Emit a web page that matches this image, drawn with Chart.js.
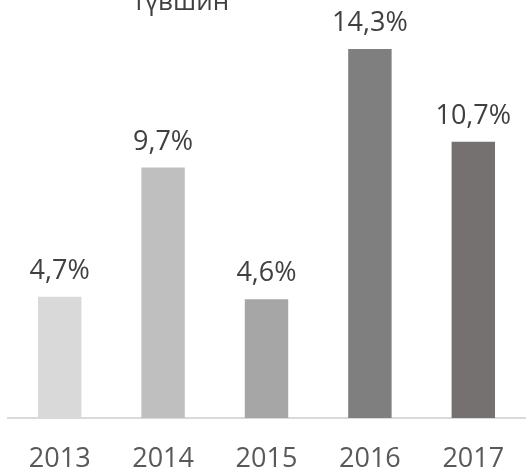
<!DOCTYPE html>
<html>
<head>
<meta charset="utf-8">
<script src="https://cdn.jsdelivr.net/npm/chart.js@4"></script>
<style>
    html, body { margin: 0; padding: 0; background: #fff; }
    #wrap { width: 529px; height: 473px; }
</style>
</head>
<body>
<div id="wrap"><canvas id="rateChart" width="529" height="473"></canvas></div>
<script>
const years = ['2013', '2014', '2015', '2016', '2017'];
const rates = [4.7, 9.7, 4.6, 14.3, 10.7];
const barColors = ['#d9d9d9', '#bfbfbf', '#a6a6a6', '#7f7f7f', '#767171'];
const titleText = 'түвшин';

const FONT = '"Open Sans", "DejaVu Sans", sans-serif';

// value labels above each bar
const valueLabels = {
    id: 'valueLabels',
    afterDatasetsDraw(chart) {
        const ctx = chart.ctx;
        const meta = chart.getDatasetMeta(0);
        ctx.save();
        ctx.font = '27px ' + FONT;
        ctx.fillStyle = '#404040';
        ctx.textAlign = 'center';
        ctx.textBaseline = 'alphabetic';
        meta.data.forEach((bar, i) => {
            const txt = rates[i].toFixed(1).replace('.', ',') + '%';
            ctx.fillText(txt, bar.x, bar.y - 18);
        });
        ctx.restore();
    }
};

// the title is cut off by the top edge, only its last line shows
const topTitle = {
    id: 'topTitle',
    afterDraw(chart) {
        const ctx = chart.ctx;
        ctx.save();
        ctx.font = '26px ' + FONT;
        ctx.fillStyle = '#404040';
        ctx.textAlign = 'center';
        ctx.textBaseline = 'alphabetic';
        ctx.fillText(titleText, 181, 10);
        ctx.restore();
    }
};

new Chart(document.getElementById('rateChart').getContext('2d'), {
    type: 'bar',
    data: {
        labels: years,
        datasets: [{
            data: rates,
            backgroundColor: barColors,
            categoryPercentage: 1,
            barPercentage: 0.42
        }]
    },
    options: {
        responsive: false,
        animation: false,
        events: [],
        layout: { padding: { left: 8, right: 4, top: 5, bottom: 0 } },
        plugins: {
            legend: { display: false },
            tooltip: { enabled: false }
        },
        scales: {
            x: {
                grid: { display: false },
                border: { display: true, color: '#d9d9d9', width: 2 },
                ticks: {
                    color: '#595959',
                    font: { family: FONT, size: 27 },
                    padding: 17
                },
                afterFit(scale) { scale.height = 55; }
            },
            y: {
                display: false,
                min: 0,
                max: 16
            }
        }
    },
    plugins: [valueLabels, topTitle]
});
</script>
</body>
</html>
